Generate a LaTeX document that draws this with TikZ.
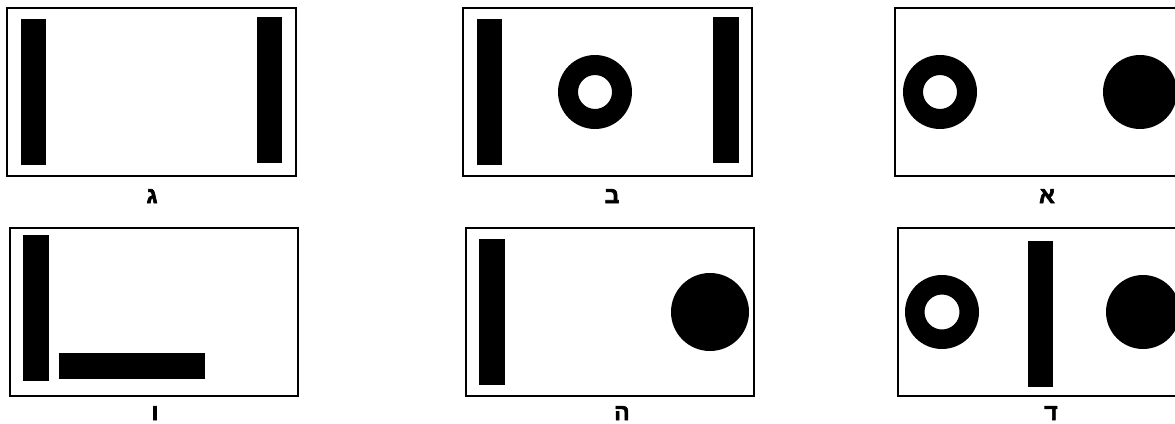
\documentclass[tikz,border=0pt]{standalone}
\usepackage{fontspec}
\TeXXeTstate=1
\newfontfamily\hebfont[Script=Hebrew,FakeBold=2.5]{Liberation Sans Bold}
\begin{document}
\begin{tikzpicture}[x=1pt,y=-1pt,
  frame/.style={draw=black,line width=1.6pt},
  blk/.style={fill=black},
  lbl/.style={font=\hebfont\fontsize{23}{23}\selectfont,anchor=base,inner sep=0pt}]
\useasboundingbox (0,0) rectangle (1175,423);
\clip (0,0) rectangle (1175,423);
% top row: gimel
\draw[frame] (7,8) rectangle (296,176);
\fill[blk] (21,19) rectangle (46,165);
\fill[blk] (257,17) rectangle (282,163);
\node[lbl] (lg) at (152,203) {\beginR ג\endR};
% top row: bet
\draw[frame] (463,8) rectangle (752,176);
\fill[blk] (477,19) rectangle (502,165);
\fill[blk] (713,17) rectangle (739,163);
\fill[blk,even odd rule] (595,92) circle[radius=37pt] (595,92) circle[radius=17pt];
\node[lbl] (lb) at (612,203) {\beginR ב\endR};
% top row: alef
\draw[frame] (895,8) rectangle (1200,176);
\fill[blk,even odd rule] (940,92) circle[radius=37pt] (940,92) circle[radius=17pt];
\fill[blk] (1140,92) circle[radius=37pt];
\node[lbl] (la) at (1047,203) {\beginR א\endR};
% bottom row: vav
\draw[frame] (10,228) rectangle (298,396);
\fill[blk] (23,235) rectangle (49,381);
\fill[blk] (59,353) rectangle (205,379);
\node[lbl] (lv) at (155,420) {\beginR ו\endR};
% bottom row: he
\draw[frame] (466,228) rectangle (754,396);
\fill[blk] (479,239) rectangle (505,385);
\fill[blk] (710,312) circle[radius=39pt];
\node[lbl] (lh) at (622,420) {\beginR ה\endR};
% bottom row: dalet
\draw[frame] (898,228) rectangle (1200,396);
\fill[blk,even odd rule] (942,312) circle[radius=37pt] (942,312) circle[radius=17.5pt];
\fill[blk] (1028,241) rectangle (1053,387);
\fill[blk] (1143,312) circle[radius=37pt];
\node[lbl] (ld) at (1051,420) {\beginR ד\endR};
\end{tikzpicture}
\end{document}
